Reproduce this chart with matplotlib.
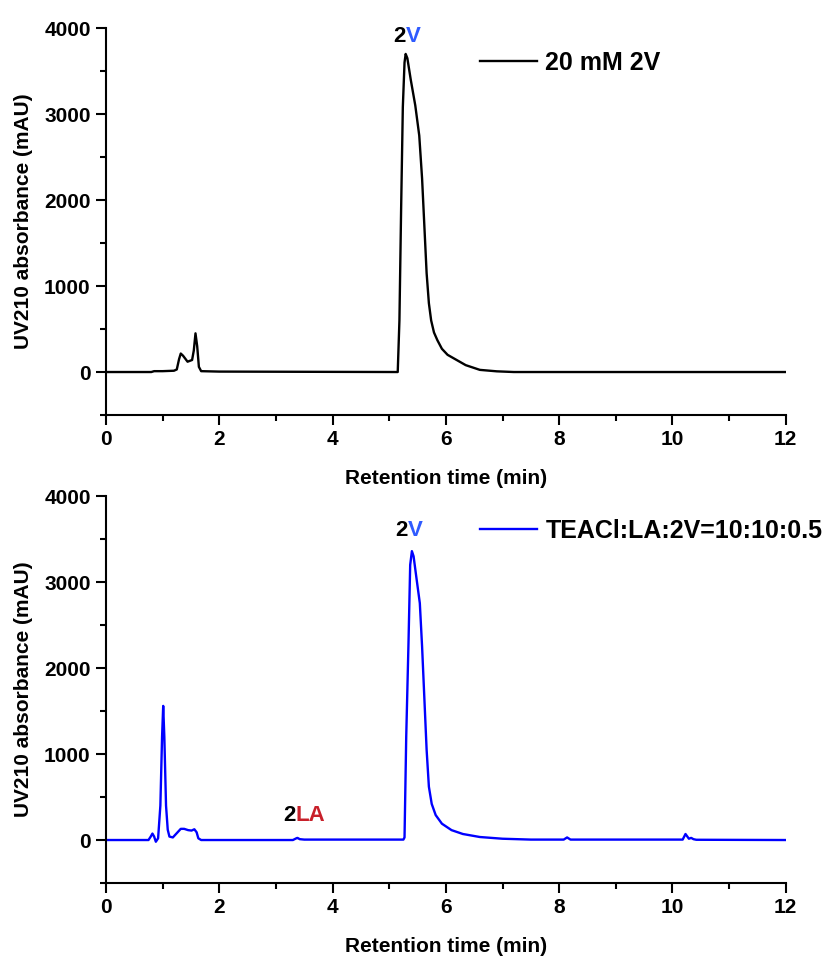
import numpy as np
import matplotlib as mplt
mplt.use("Agg")
import matplotlib.pyplot as plt
from matplotlib.ticker import MultipleLocator

plt.rcParams["font.family"] = ["Liberation Sans", "DejaVu Sans"]

# top trace: 20 mM 2V (retention time in min, absorbance in mAU)
top_time = [0, 0.8, 0.85, 1.0, 1.2, 1.25, 1.29, 1.32, 1.36, 1.44, 1.52, 1.55, 1.58,
            1.61, 1.64, 1.68, 2.0, 5.1, 5.15, 5.18, 5.21, 5.24, 5.27, 5.29, 5.32,
            5.38, 5.46, 5.53, 5.58, 5.62, 5.66, 5.70, 5.74, 5.79, 5.85, 5.93, 6.03,
            6.19, 6.35, 6.6, 6.9, 7.2, 12]
top_signal = [0, 0, 10, 10, 15, 30, 150, 215, 190, 120, 140, 250, 450,
              300, 60, 10, 5, 0, 0, 600, 1900, 3080, 3600, 3700, 3650,
              3400, 3100, 2750, 2250, 1700, 1150, 800, 600, 460, 370, 270, 200,
              140, 80, 25, 8, 0, 0]

# bottom trace: TEACl:LA:2V=10:10:0.5
bot_time = [0, 0.75, 0.79, 0.82, 0.85, 0.88, 0.92, 0.96, 0.99, 1.01, 1.03, 1.06,
            1.09, 1.12, 1.18, 1.25, 1.32, 1.38, 1.45, 1.51, 1.56, 1.60, 1.63, 1.68,
            2.0, 3.3, 3.36, 3.38, 3.42, 3.5, 5.25, 5.27, 5.30, 5.34, 5.37, 5.40,
            5.43, 5.48, 5.54, 5.58, 5.62, 5.66, 5.70, 5.75, 5.82, 5.93, 6.10, 6.3,
            6.6, 7.0, 7.5, 8.08, 8.14, 8.2, 10.18, 10.23, 10.29, 10.33, 10.37,
            10.42, 12]
bot_signal = [0, 0, 40, 75, 40, -20, 20, 400, 1200, 1560, 1200, 400,
              120, 40, 30, 80, 130, 130, 115, 110, 125, 90, 20, 0,
              0, 0, 20, 25, 10, 5, 5, 30, 1200, 2290, 3200, 3360,
              3300, 3050, 2755, 2250, 1650, 1050, 620, 420, 290, 190, 115, 70,
              35, 15, 5, 5, 30, 5, 5, 70, 15, 25, 10,
              3, 0]

top_label = "20 mM 2V"
bot_label = "TEACl:LA:2V=10:10:0.5"

blue_text = "#2f5bff"
red_text = "#c8202a"

fig = plt.figure(figsize=(8.28, 9.6), dpi=100)
ax_top = fig.add_axes([0.128, 0.5677, 0.821, 0.403])
ax_bot = fig.add_axes([0.128, 0.0802, 0.821, 0.403])

ax_top.plot(top_time, top_signal, color="black", lw=1.7, label=top_label)
ax_bot.plot(bot_time, bot_signal, color="#0000ff", lw=1.7, label=bot_label)

for _ax in (ax_top, ax_bot):
    _ax.set_xlim(0, 12)
    _ax.set_ylim(-500, 4000)
    _ax.xaxis.set_major_locator(MultipleLocator(2))
    _ax.xaxis.set_minor_locator(MultipleLocator(1))
    _ax.yaxis.set_major_locator(MultipleLocator(1000))
    _ax.yaxis.set_minor_locator(MultipleLocator(500))
    _ax.spines["top"].set_visible(False)
    _ax.spines["right"].set_visible(False)
    for s in ("left", "bottom"):
        _ax.spines[s].set_linewidth(1.5)
    _ax.tick_params(which="major", direction="out", length=7, width=1.5,
                    labelsize=15, pad=4)
    _ax.tick_params(which="minor", direction="out", length=4, width=1.5)
    for lab in _ax.get_xticklabels() + _ax.get_yticklabels():
        lab.set_fontweight("bold")
    _ax.set_xlabel("Retention time (min)", fontsize=15, fontweight="bold",
                   labelpad=14)
    _ax.set_ylabel("UV210 absorbance (mAU)", fontsize=15, fontweight="bold",
                   labelpad=8)
    _ax.legend(loc="center left", bbox_to_anchor=(0.55, 0.91), frameon=False,
               borderpad=0, borderaxespad=0, handlelength=2.3, handletextpad=0.32,
               prop={"weight": "bold", "size": 18})

# peak labels, two-colour
lab_kw = dict(fontsize=16, fontweight="bold", va="center")
ax_top.text(5.29, 3907, "2", ha="right", color="black", **lab_kw)
ax_top.text(5.29, 3907, "V", ha="left", color=blue_text, **lab_kw)
ax_bot.text(5.33, 3605, "2", ha="right", color="black", **lab_kw)
ax_bot.text(5.33, 3605, "V", ha="left", color=blue_text, **lab_kw)
ax_bot.text(3.35, 290, "2", ha="right", color="black", **lab_kw)
ax_bot.text(3.35, 290, "LA", ha="left", color=red_text, **lab_kw)

fig.savefig("out.png", dpi=100)
